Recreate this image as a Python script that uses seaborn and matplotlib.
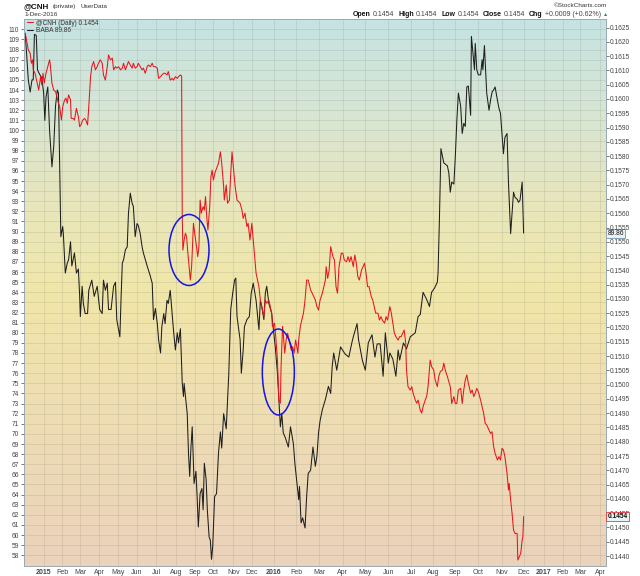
import numpy as np
import pandas as pd
import matplotlib
matplotlib.use("Agg")
import matplotlib.pyplot as plt
import matplotlib.dates as mdates
from matplotlib.colors import LinearSegmentedColormap
from matplotlib.patches import Ellipse
import seaborn as sns

# ---- BABA (black line, left axis) ----
baba_dates = [
    "2014-12-02", "2014-12-07", "2014-12-10", "2014-12-13", "2014-12-15", "2014-12-17", "2014-12-20", "2014-12-22", "2014-12-25", "2014-12-29",
    "2015-01-01", "2015-01-03", "2015-01-05", "2015-01-08", "2015-01-11", "2015-01-15", "2015-01-18", "2015-01-21", "2015-01-24", "2015-01-26", "2015-01-28", "2015-01-30",
    "2015-02-02", "2015-02-03", "2015-02-06", "2015-02-09", "2015-02-11", "2015-02-14", "2015-02-16", "2015-02-20", "2015-02-23", "2015-02-26", "2015-02-28",
    "2015-03-01", "2015-03-04", "2015-03-06", "2015-03-09", "2015-03-13", "2015-03-15", "2015-03-20", "2015-03-24", "2015-03-29",
    "2015-04-02", "2015-04-06", "2015-04-08", "2015-04-11", "2015-04-14", "2015-04-16", "2015-04-20", "2015-04-24", "2015-04-27", "2015-04-29",
    "2015-05-04", "2015-05-06", "2015-05-08", "2015-05-10", "2015-05-13", "2015-05-16", "2015-05-18", "2015-05-21", "2015-05-24", "2015-05-26", "2015-05-29",
    "2015-06-01", "2015-06-03", "2015-06-06", "2015-06-09", "2015-06-11", "2015-06-17", "2015-06-22", "2015-06-25", "2015-06-27", "2015-06-30",
    "2015-07-03", "2015-07-05", "2015-07-08", "2015-07-10", "2015-07-13", "2015-07-15", "2015-07-18", "2015-07-20", "2015-07-23", "2015-07-26", "2015-07-28", "2015-07-31",
    "2015-08-03", "2015-08-05", "2015-08-08", "2015-08-11", "2015-08-13", "2015-08-14", "2015-08-19", "2015-08-21", "2015-08-23", "2015-08-25", "2015-08-27", "2015-08-30",
    "2015-09-02", "2015-09-04", "2015-09-06", "2015-09-09", "2015-09-12", "2015-09-14", "2015-09-16", "2015-09-19", "2015-09-21", "2015-09-24", "2015-09-26", "2015-09-28", "2015-09-30",
    "2015-10-03", "2015-10-06", "2015-10-09", "2015-10-12", "2015-10-14", "2015-10-17", "2015-10-21", "2015-10-25", "2015-10-28", "2015-10-31",
    "2015-11-03", "2015-11-05", "2015-11-07", "2015-11-12", "2015-11-14", "2015-11-17", "2015-11-19", "2015-11-23", "2015-11-27", "2015-11-30",
    "2015-12-03", "2015-12-07", "2015-12-11", "2015-12-13", "2015-12-15", "2015-12-18", "2015-12-20", "2015-12-22", "2015-12-25", "2015-12-29", "2015-12-31",
    "2016-01-03", "2016-01-06", "2016-01-08", "2016-01-10", "2016-01-12", "2016-01-14", "2016-01-17", "2016-01-21", "2016-01-24", "2016-01-28", "2016-01-30",
    "2016-02-04", "2016-02-05", "2016-02-07", "2016-02-09", "2016-02-12", "2016-02-14", "2016-02-16", "2016-02-19", "2016-02-22", "2016-02-25", "2016-02-27", "2016-02-29",
    "2016-03-02", "2016-03-05", "2016-03-09", "2016-03-13", "2016-03-16", "2016-03-18", "2016-03-20", "2016-03-24", "2016-03-29",
    "2016-04-04", "2016-04-09", "2016-04-13", "2016-04-15", "2016-04-20", "2016-04-22", "2016-04-27",
    "2016-05-01", "2016-05-05", "2016-05-10", "2016-05-14", "2016-05-17", "2016-05-21", "2016-05-25", "2016-05-28",
    "2016-06-01", "2016-06-03", "2016-06-07", "2016-06-11", "2016-06-14", "2016-06-16", "2016-06-21", "2016-06-25", "2016-06-30",
    "2016-07-07", "2016-07-11", "2016-07-14", "2016-07-18", "2016-07-23", "2016-07-27", "2016-07-30",
    "2016-08-03", "2016-08-07", "2016-08-08", "2016-08-10", "2016-08-12", "2016-08-14", "2016-08-16", "2016-08-21", "2016-08-23", "2016-08-25", "2016-08-27", "2016-08-30",
    "2016-09-01", "2016-09-03", "2016-09-05", "2016-09-08", "2016-09-10", "2016-09-12", "2016-09-14", "2016-09-16", "2016-09-18", "2016-09-21", "2016-09-22", "2016-09-24", "2016-09-26", "2016-09-27", "2016-09-29",
    "2016-10-01", "2016-10-04", "2016-10-06", "2016-10-07", "2016-10-09", "2016-10-11", "2016-10-12", "2016-10-15", "2016-10-17", "2016-10-19", "2016-10-21", "2016-10-23", "2016-10-26", "2016-10-28", "2016-10-30",
    "2016-11-01", "2016-11-03", "2016-11-05", "2016-11-08", "2016-11-10", "2016-11-13", "2016-11-17", "2016-11-19", "2016-11-22", "2016-11-24", "2016-11-26", "2016-11-29", "2016-12-01",
]
baba_close = [
    109.6, 105.0, 103.8, 105.0, 105.0, 109.5, 109.4, 106.0, 105.6, 105.2,
    103.7, 101.0, 103.3, 104.3, 100.0, 96.4, 98.4, 102.4, 104.0, 103.7, 96.7, 89.5,
    90.5, 89.8, 85.9, 86.9, 87.2, 89.0, 86.6, 87.9, 85.9, 86.3, 83.6,
    81.6, 84.6, 82.9, 81.9, 81.9, 84.2, 85.2, 83.6, 84.6,
    82.3, 81.9, 85.2, 84.2, 84.9, 82.3, 82.3, 84.6, 85.0, 81.3,
    79.6, 83.5, 86.9, 87.2, 88.2, 88.5, 91.8, 93.8, 92.8, 92.5, 89.5,
    90.8, 90.6, 89.8, 88.5, 87.9, 86.6, 85.6, 84.9, 81.3, 82.4,
    80.9, 79.3, 78.0, 80.6, 81.9, 80.9, 83.2, 82.9, 84.2, 81.9, 80.3, 78.3,
    80.0, 79.0, 80.4, 75.0, 73.7, 75.0, 72.0, 68.1, 65.8, 68.7, 70.7, 65.1,
    66.3, 63.8, 60.8, 64.1, 64.6, 62.5, 67.1, 65.5, 62.5, 59.8, 59.5, 57.6, 58.9,
    63.8, 64.1, 68.1, 70.2, 68.6, 72.0, 70.5, 76.0, 82.3, 83.9,
    85.2, 85.4, 81.6, 79.3, 76.0, 78.3, 80.6, 81.3, 81.6, 83.9,
    84.9, 83.2, 80.3, 83.2, 82.6, 81.3, 83.9, 84.6, 82.9, 81.9, 80.6,
    78.6, 76.0, 73.4, 70.7, 72.0, 70.1, 69.6, 68.7, 70.7, 69.0, 67.1,
    63.5, 64.8, 61.2, 61.7, 60.7, 63.8, 66.1, 66.4, 68.7, 66.8, 67.8, 70.1,
    71.3, 72.4, 73.4, 74.7, 74.0, 76.7, 78.0, 76.3, 78.6,
    77.9, 77.6, 79.0, 79.6, 80.9, 79.3, 77.3,
    76.3, 79.0, 79.8, 77.6, 78.9, 78.9, 75.7, 80.0,
    77.0, 78.0, 77.4, 75.7, 78.3, 77.3, 79.0, 78.4, 79.6,
    80.0, 81.6, 81.8, 84.0, 83.3, 82.6, 84.0,
    84.4, 85.0, 85.9, 91.5, 98.2, 97.5, 96.8, 96.5, 95.8, 93.9, 94.9, 94.7,
    97.4, 101.0, 103.7, 102.4, 99.7, 100.7, 100.4, 104.3, 104.4, 101.5, 109.3, 107.6, 106.0, 108.6, 106.0,
    105.5, 105.5, 107.0, 106.0, 108.4, 105.2, 103.7, 102.0, 103.0, 103.8, 104.0, 104.3, 103.0, 102.2, 101.7,
    99.7, 97.7, 99.3, 99.7, 94.8, 89.8, 93.9, 93.4, 93.2, 92.9, 93.1, 94.9, 89.86,
]

# ---- @CNH (red line, right axis) ----
cnh_dates = [
    "2014-12-02", "2014-12-04", "2014-12-07", "2014-12-10", "2014-12-12", "2014-12-14", "2014-12-15", "2014-12-18", "2014-12-21", "2014-12-24", "2014-12-27", "2014-12-29", "2014-12-31",
    "2015-01-02", "2015-01-05", "2015-01-08", "2015-01-11", "2015-01-12", "2015-01-15", "2015-01-18", "2015-01-21", "2015-01-24", "2015-01-25", "2015-01-28", "2015-01-31",
    "2015-02-02", "2015-02-05", "2015-02-07", "2015-02-09", "2015-02-11", "2015-02-14", "2015-02-15", "2015-02-18", "2015-02-20", "2015-02-23", "2015-02-26", "2015-02-28",
    "2015-03-02", "2015-03-05", "2015-03-08", "2015-03-10", "2015-03-13", "2015-03-15", "2015-03-18", "2015-03-20", "2015-03-23", "2015-03-26", "2015-03-29", "2015-03-31",
    "2015-04-03", "2015-04-06", "2015-04-08", "2015-04-11", "2015-04-14", "2015-04-16", "2015-04-19", "2015-04-22", "2015-04-24", "2015-04-27", "2015-04-29",
    "2015-05-02", "2015-05-05", "2015-05-08", "2015-05-10", "2015-05-13", "2015-05-16", "2015-05-18", "2015-05-21", "2015-05-24", "2015-05-26", "2015-05-29",
    "2015-06-01", "2015-06-03", "2015-06-06", "2015-06-09", "2015-06-11", "2015-06-14", "2015-06-17", "2015-06-19", "2015-06-22", "2015-06-25", "2015-06-27", "2015-06-30",
    "2015-07-03", "2015-07-05", "2015-07-08", "2015-07-10", "2015-07-13", "2015-07-15", "2015-07-18", "2015-07-20", "2015-07-23", "2015-07-26", "2015-07-28", "2015-07-31",
    "2015-08-03", "2015-08-05", "2015-08-08", "2015-08-10", "2015-08-11", "2015-08-12", "2015-08-14", "2015-08-16", "2015-08-18", "2015-08-20", "2015-08-22", "2015-08-24", "2015-08-26", "2015-08-27", "2015-08-29", "2015-08-31",
    "2015-09-03", "2015-09-05", "2015-09-07", "2015-09-09", "2015-09-11", "2015-09-14", "2015-09-16", "2015-09-18", "2015-09-20", "2015-09-22", "2015-09-25", "2015-09-27", "2015-09-29",
    "2015-10-01", "2015-10-04", "2015-10-07", "2015-10-09", "2015-10-12", "2015-10-14", "2015-10-17", "2015-10-18", "2015-10-21", "2015-10-23", "2015-10-26", "2015-10-28", "2015-10-30",
    "2015-11-01", "2015-11-04", "2015-11-07", "2015-11-12", "2015-11-15", "2015-11-17", "2015-11-20", "2015-11-23", "2015-11-25", "2015-11-28",
    "2015-12-01", "2015-12-03", "2015-12-05", "2015-12-07", "2015-12-09", "2015-12-11", "2015-12-13", "2015-12-15", "2015-12-18", "2015-12-20", "2015-12-22", "2015-12-25", "2015-12-27", "2015-12-29", "2015-12-30",
    "2016-01-02", "2016-01-04", "2016-01-06", "2016-01-08", "2016-01-10", "2016-01-11", "2016-01-13", "2016-01-14", "2016-01-16", "2016-01-18", "2016-01-20", "2016-01-23", "2016-01-25", "2016-01-27", "2016-01-29", "2016-01-31",
    "2016-02-03", "2016-02-04", "2016-02-06", "2016-02-08", "2016-02-10", "2016-02-12", "2016-02-14", "2016-02-16", "2016-02-19", "2016-02-21", "2016-02-23", "2016-02-25", "2016-02-27", "2016-02-29",
    "2016-03-02", "2016-03-05", "2016-03-07", "2016-03-09", "2016-03-10", "2016-03-12", "2016-03-14", "2016-03-16", "2016-03-19", "2016-03-21", "2016-03-23", "2016-03-25", "2016-03-27", "2016-03-30",
    "2016-04-01", "2016-04-03", "2016-04-06", "2016-04-08", "2016-04-10", "2016-04-12", "2016-04-15", "2016-04-17", "2016-04-19", "2016-04-21", "2016-04-23", "2016-04-26", "2016-04-28", "2016-04-30",
    "2016-05-02", "2016-05-04", "2016-05-06", "2016-05-09", "2016-05-11", "2016-05-13", "2016-05-15", "2016-05-18", "2016-05-20", "2016-05-22", "2016-05-24", "2016-05-27", "2016-05-29", "2016-05-31",
    "2016-06-03", "2016-06-05", "2016-06-07", "2016-06-09", "2016-06-11", "2016-06-14", "2016-06-16", "2016-06-18", "2016-06-20", "2016-06-22", "2016-06-24", "2016-06-25", "2016-06-27", "2016-06-30",
    "2016-07-02", "2016-07-04", "2016-07-07", "2016-07-09", "2016-07-11", "2016-07-14", "2016-07-16", "2016-07-18", "2016-07-21", "2016-07-23", "2016-07-25", "2016-07-28", "2016-07-30",
    "2016-08-02", "2016-08-04", "2016-08-07", "2016-08-09", "2016-08-11", "2016-08-14", "2016-08-16", "2016-08-18", "2016-08-21", "2016-08-23", "2016-08-25", "2016-08-27", "2016-08-30",
    "2016-09-01", "2016-09-03", "2016-09-05", "2016-09-08", "2016-09-10", "2016-09-12", "2016-09-14", "2016-09-16", "2016-09-18", "2016-09-21", "2016-09-23", "2016-09-25", "2016-09-27", "2016-09-29",
    "2016-10-01", "2016-10-04", "2016-10-06", "2016-10-08", "2016-10-10", "2016-10-12", "2016-10-15", "2016-10-17", "2016-10-19", "2016-10-21", "2016-10-23", "2016-10-26", "2016-10-28", "2016-10-30",
    "2016-11-01", "2016-11-03", "2016-11-05", "2016-11-08", "2016-11-10", "2016-11-11", "2016-11-13", "2016-11-15", "2016-11-17", "2016-11-19", "2016-11-22", "2016-11-23", "2016-11-25", "2016-11-27", "2016-11-29", "2016-11-30",
    "2016-12-01",
]
cnh_close = [
    0.16230, 0.16207, 0.16171, 0.16160, 0.16125, 0.16137, 0.16102, 0.16090, 0.16061, 0.16031, 0.16078, 0.16049, 0.16090,
    0.16055, 0.16090, 0.16113, 0.16137, 0.16125, 0.16055, 0.16031, 0.16026, 0.16003, 0.15991, 0.15973, 0.15926,
    0.15973, 0.15997, 0.16003, 0.15985, 0.16014, 0.15997, 0.15932, 0.15932, 0.15926, 0.15967, 0.15938, 0.15903,
    0.15909, 0.15926, 0.15932, 0.15926, 0.15909, 0.15973, 0.16078, 0.16113, 0.16131, 0.16102, 0.16113, 0.16125,
    0.16137, 0.16125, 0.16084, 0.16066, 0.16113, 0.16154, 0.16137, 0.16143, 0.16102, 0.16113, 0.16108,
    0.16113, 0.16102, 0.16108, 0.16125, 0.16102, 0.16119, 0.16131, 0.16119, 0.16108, 0.16125, 0.16108,
    0.16113, 0.16125, 0.16113, 0.16102, 0.16108, 0.16090, 0.16113, 0.16119, 0.16113, 0.16125, 0.16113, 0.16113,
    0.16108, 0.16072, 0.16078, 0.16084, 0.16090, 0.16090, 0.16084, 0.16096, 0.16066, 0.16072, 0.16066, 0.16078,
    0.16072, 0.16078, 0.16084, 0.16080, 0.15588, 0.15471, 0.15506, 0.15530, 0.15518, 0.15460, 0.15413, 0.15366, 0.15413, 0.15460, 0.15565, 0.15530,
    0.15483, 0.15448, 0.15483, 0.15646, 0.15600, 0.15623, 0.15611, 0.15658, 0.15588, 0.15541, 0.15623, 0.15728, 0.15751,
    0.15716, 0.15745, 0.15763, 0.15775, 0.15815, 0.15775, 0.15693, 0.15646, 0.15699, 0.15635, 0.15646, 0.15740, 0.15815,
    0.15763, 0.15693, 0.15646, 0.15635, 0.15611, 0.15582, 0.15600, 0.15553, 0.15565, 0.15506,
    0.15565, 0.15506, 0.15448, 0.15390, 0.15366, 0.15343, 0.15296, 0.15273, 0.15238, 0.15296, 0.15285, 0.15296, 0.15273, 0.15250, 0.15203,
    0.15215, 0.15156, 0.15086, 0.14946, 0.14935, 0.15063, 0.15203, 0.15180, 0.15110, 0.15156, 0.15180, 0.15145, 0.15121, 0.15133, 0.15110, 0.15156,
    0.15110, 0.15156, 0.15203, 0.15226, 0.15250, 0.15296, 0.15366, 0.15366, 0.15331, 0.15320, 0.15308, 0.15296, 0.15273, 0.15261,
    0.15296, 0.15320, 0.15343, 0.15366, 0.15413, 0.15372, 0.15401, 0.15483, 0.15448, 0.15436, 0.15343, 0.15320, 0.15413, 0.15460,
    0.15460, 0.15436, 0.15430, 0.15448, 0.15430, 0.15448, 0.15413, 0.15454, 0.15425, 0.15378, 0.15366, 0.15401, 0.15413, 0.15425,
    0.15390, 0.15343, 0.15343, 0.15308, 0.15296, 0.15273, 0.15250, 0.15250, 0.15226, 0.15238, 0.15226, 0.15215, 0.15238, 0.15226,
    0.15273, 0.15250, 0.15215, 0.15180, 0.15168, 0.15156, 0.15168, 0.15168, 0.15180, 0.15191, 0.15145, 0.15051, 0.14993, 0.14981,
    0.14993, 0.14970, 0.14946, 0.14935, 0.14946, 0.14911, 0.14900, 0.14923, 0.14946, 0.14958, 0.14993, 0.15086, 0.15063,
    0.15051, 0.15016, 0.14993, 0.15028, 0.15045, 0.15051, 0.15075, 0.15051, 0.15028, 0.15010, 0.14993, 0.14934, 0.14958,
    0.14934, 0.14934, 0.14981, 0.14987, 0.14934, 0.14981, 0.15016, 0.15034, 0.15005, 0.14970, 0.14981, 0.14958, 0.14970, 0.14987,
    0.14975, 0.14946, 0.14923, 0.14899, 0.14864, 0.14859, 0.14841, 0.14829, 0.14835, 0.14783, 0.14759, 0.14736, 0.14748, 0.14736,
    0.14777, 0.14771, 0.14748, 0.14689, 0.14631, 0.14654, 0.14596, 0.14549, 0.14491, 0.14479, 0.14479, 0.14386, 0.14398, 0.14409, 0.14456, 0.14468,
    0.14538,
]

baba_label = "BABA 89.86"
cnh_label = "@CNH (Daily) 0.1454"

# StockCharts spaces the months unevenly (2016 months are wider than 2015 ones);
# these knots give the relative spacing of month starts along the axis
knot_dates = ["2014-11-01", "2014-12-01", "2015-01-01", "2015-02-01", "2015-03-01", "2015-04-01",
              "2015-05-01", "2015-06-01", "2015-07-01", "2015-08-01", "2015-09-01", "2015-10-01",
              "2015-11-01", "2015-12-01", "2016-01-01", "2016-02-01", "2016-03-01", "2016-04-01",
              "2016-05-01", "2016-06-01", "2016-07-01", "2016-08-01", "2016-09-01", "2016-10-01",
              "2016-11-01", "2016-12-01", "2017-01-01", "2017-02-01", "2017-03-01", "2017-04-01",
              "2017-05-01"]
knot_pos = [5.3, 24.3, 43.3, 61.7, 80, 98.7, 117.7, 136.7, 155.7, 175.7, 195, 213, 233, 251.5,
            273.5, 296, 319, 342.5, 365, 388, 410.7, 432.7, 455, 478, 501.7, 523.3, 543.3, 562.3,
            580, 600, 619]
kn = mdates.date2num(pd.to_datetime(knot_dates))


def fwd(x):
    return np.interp(x, kn, knot_pos)


def inv(p):
    return np.interp(p, knot_pos, kn)


sns.set_style("white")
plt.rcParams["font.family"] = ["Liberation Sans", "DejaVu Sans"]

baba = pd.DataFrame({"date": pd.to_datetime(baba_dates), "close": baba_close})
cnh = pd.DataFrame({"date": pd.to_datetime(cnh_dates), "close": cnh_close})

W, H = 640, 576
fig = plt.figure(figsize=(6.4, 5.76), dpi=100)
rect = [24 / W, 1 - 566 / H, 582 / W, 547.3 / H]

# gradient background behind the plot
bg = fig.add_axes(rect, zorder=0)
bg_cmap = LinearSegmentedColormap.from_list(
    "sc", [(0, "#ebd2bc"), (0.3, "#efdeb2"), (0.5, "#f1e6a8"), (0.67, "#e7e6bd"),
           (0.85, "#d5e5d6"), (1, "#c5e3e2")])
bg.imshow(np.linspace(0, 1, 256).reshape(-1, 1), cmap=bg_cmap, origin="lower",
          aspect="auto", extent=[0, 1, 0, 1])
bg.axis("off")

ax = fig.add_axes(rect, zorder=1)
ax.patch.set_visible(False)
ax2 = ax.twinx()

sns.lineplot(data=baba, x="date", y="close", ax=ax, color="#1e1e1e", lw=0.75,
             label=baba_label, legend=False)
sns.lineplot(data=cnh, x="date", y="close", ax=ax2, color="#e8141c", lw=0.75,
             label=cnh_label, legend=False)
for a in (ax, ax2):
    if a.get_legend() is not None:
        a.get_legend().remove()
    a.set_xlabel("")
    a.set_ylabel("")

ax.set_xscale("function", functions=(fwd, inv))
ax.set_xlim(mdates.date2num(pd.Timestamp("2014-11-30")), mdates.date2num(pd.Timestamp("2017-04-10")))
ax.set_ylim(56.94, 111.05)
ax2.set_ylim(0.14365, 0.16281)

# ticks
months = pd.date_range("2015-01-01", "2017-04-01", freq="MS")
ax.set_xticks(mdates.date2num(months))
ax.set_xticklabels([str(m.year) if m.month == 1 else m.strftime("%b") for m in months])
for lab, m in zip(ax.get_xticklabels(), months):
    if m.month == 1:
        lab.set_fontweight("bold")
        lab.set_color("#111111")

ax.set_yticks(np.arange(58, 111, 1))
ax.set_yticklabels([str(v) for v in range(58, 111)])
r_ticks = np.arange(0.1440, 0.16251, 0.0005)
ax2.set_yticks(r_ticks)
ax2.set_yticklabels([f"{v:.4f}" for v in r_ticks])

ax.tick_params(axis="x", labelsize=5, colors="#444444", length=0, pad=2)
ax.tick_params(axis="y", labelsize=4.8, colors="#444444", length=2, width=0.5, pad=1.5,
               left=True, right=False)
ax2.tick_params(axis="y", labelsize=4.8, colors="#444444", length=2, width=0.5, pad=1,
                right=True, left=False)

ax.grid(True, color="#6f7a66", alpha=0.22, lw=0.5)
ax.set_axisbelow(True)
for a in (ax, ax2):
    for s in a.spines.values():
        s.set_color("#9aa9b3")
        s.set_linewidth(0.6)

# legend inside top-left
h1, l1 = ax2.get_legend_handles_labels()
h0, l0 = ax.get_legend_handles_labels()
leg = ax2.legend(h1 + h0, l1 + l0, loc="upper left", bbox_to_anchor=(0, 1.004), frameon=False,
                 fontsize=4.7, handlelength=0.9, handletextpad=0.4, labelspacing=0.05,
                 borderaxespad=0.1)
for t in leg.get_texts():
    t.set_color("#333333")

# last-value tags on the right axis
ax.annotate(f"{baba_close[-1]:.2f}", xy=(1, baba_close[-1]), xycoords=("axes fraction", "data"),
            xytext=(1, 0), textcoords="offset points", ha="left", va="center", fontsize=4.8,
            color="#111111", annotation_clip=False, zorder=10,
            bbox=dict(boxstyle="square,pad=0.15", fc="#e9f3f4", ec="#5c7f99", lw=0.5))
ax2.annotate(f"{cnh_close[-1]:.4f}", xy=(1, cnh_close[-1]), xycoords=("axes fraction", "data"),
             xytext=(1, 0), textcoords="offset points", ha="left", va="center", fontsize=4.8,
             fontweight="bold", color="#111111", annotation_clip=False, zorder=10,
             bbox=dict(boxstyle="square,pad=0.15", fc="#e9f3f4", ec="#e8141c", lw=0.5))

# blue highlight ellipses
ax2.add_patch(Ellipse((0.2835, 0.5774), 0.0687, 0.1297, transform=ax2.transAxes,
                      fill=False, ec="#1414e6", lw=1.1, zorder=5))
ax2.add_patch(Ellipse((0.437, 0.3545), 0.055, 0.157, transform=ax2.transAxes,
                      fill=False, ec="#1414e6", lw=1.1, zorder=5))

renderer = fig.canvas.get_renderer()

# header, left side: pieces chained left to right
xl = 23.0
for txt, size, weight, gap in [("@CNH", 5.8, "bold", 4.5), ("(private)", 4.6, "normal", 4.5),
                               ("UserData", 4.6, "normal", 0)]:
    t = fig.text(xl / W, 1 - 6.5 / H, txt, fontsize=size, fontweight=weight,
                 color="#111111" if weight == "bold" else "#333333", va="center")
    xl += t.get_window_extent(renderer).width + gap
fig.text(24 / W, 1 - 14.3 / H, "1-Dec-2016", fontsize=4.6, color="#333333", va="center")
fig.text(607 / W, 1 - 5.7 / H, "\u00a9StockCharts.com", fontsize=4.6, color="#333333",
         ha="right", va="center")

# header, right side: pieces chained right to left
pieces = [("Open", "bold", "#111111"), ("0.1454", "normal", "#444444"),
          ("High", "bold", "#111111"), ("0.1454", "normal", "#444444"),
          ("Low", "bold", "#111111"), ("0.1454", "normal", "#444444"),
          ("Close", "bold", "#111111"), ("0.1454", "normal", "#444444"),
          ("Chg", "bold", "#111111"), ("+0.0009 (+0.62%)", "normal", "#444444"),
          ("\u25b2", "normal", "#1a9a2a")]
xr = 608.0
for txt, weight, col in reversed(pieces):
    t = fig.text(xr / W, 1 - 14.5 / H, txt, fontsize=5 if txt != "\u25b2" else 3.8,
                 fontweight=weight, color=col, ha="right", va="center")
    w = t.get_window_extent(renderer).width
    gap = 2.0 if weight == "normal" else 4.0
    xr -= w + gap

fig.savefig("out.png", dpi=100)
